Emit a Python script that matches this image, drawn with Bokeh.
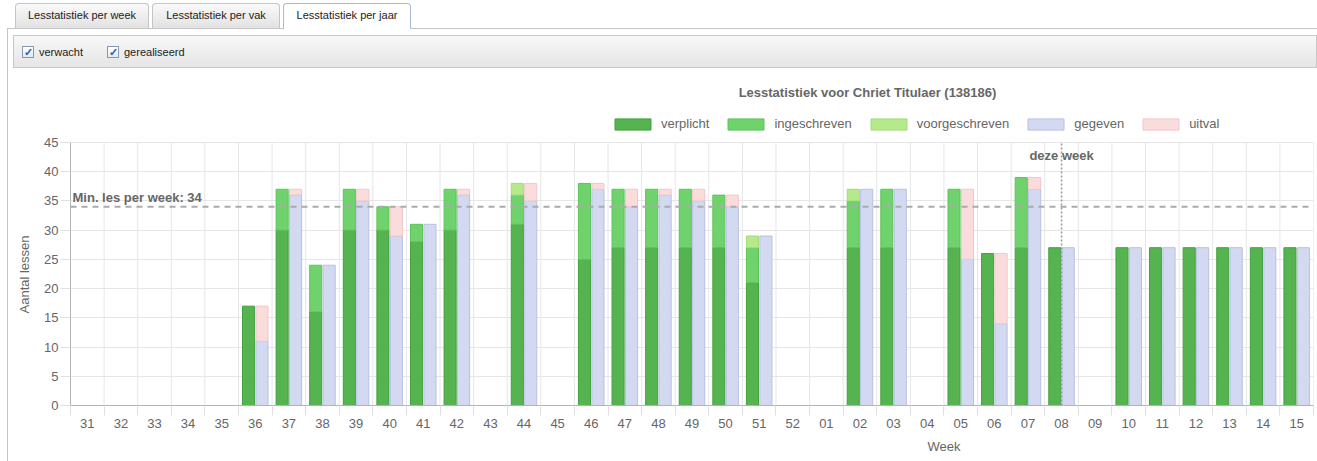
from bokeh.plotting import figure
from bokeh.models import (Range1d, FixedTicker, Span, Label, Legend, LegendItem,
                          Div, ColumnDataSource, Title)
from bokeh.layouts import column
from bokeh.embed import file_html
from bokeh.resources import INLINE
from bokeh.transform import dodge

# ---------------- data ----------------
weeks = ["31", "32", "33", "34", "35", "36", "37", "38", "39", "40", "41", "42", "43",
         "44", "45", "46", "47", "48", "49", "50", "51", "52", "01", "02", "03", "04",
         "05", "06", "07", "08", "09", "10", "11", "12", "13", "14", "15"]
verplicht = [0, 0, 0, 0, 0, 17, 30, 16, 30, 30, 28, 30, 0, 31, 0, 25, 27, 27, 27, 27, 21,
             0, 0, 27, 27, 0, 27, 26, 27, 27, 0, 27, 27, 27, 27, 27, 27]
ingeschreven = [0, 0, 0, 0, 0, 0, 7, 8, 7, 4, 3, 7, 0, 5, 0, 13, 10, 10, 10, 9, 6,
                0, 0, 8, 10, 0, 10, 0, 12, 0, 0, 0, 0, 0, 0, 0, 0]
voorgeschreven = [0, 0, 0, 0, 0, 0, 0, 0, 0, 0, 0, 0, 0, 2, 0, 0, 0, 0, 0, 0, 2,
                  0, 0, 2, 0, 0, 0, 0, 0, 0, 0, 0, 0, 0, 0, 0, 0]
gegeven = [0, 0, 0, 0, 0, 11, 36, 24, 35, 29, 31, 36, 0, 35, 0, 37, 34, 36, 35, 34, 29,
           0, 0, 37, 37, 0, 25, 14, 37, 27, 0, 27, 27, 27, 27, 27, 27]
uitval = [0, 0, 0, 0, 0, 6, 1, 0, 2, 5, 0, 1, 0, 3, 0, 1, 3, 1, 2, 2, 0,
          0, 0, 0, 0, 0, 12, 12, 2, 0, 0, 0, 0, 0, 0, 0, 0]
y_ticks = [0, 5, 10, 15, 20, 25, 30, 35, 40, 45]
min_per_week = 34
this_week = "08"

FONT = "Liberation Sans"
FS = "13px"
GREY = "#666666"
n = len(weeks)
centers = [i + 0.5 for i in range(n)]
bounds = [float(i) for i in range(n + 1)]
y_max = y_ticks[-1]

# layout geometry (pixels)
FIG_W, FIG_H = 1317, 386
B_LEFT, B_RIGHT, B_TOP, B_BOTTOM = 70, 4, 0, 56
AXIS_PX = 263                      # pixel height of 0..45
frame_h = FIG_H - B_TOP - B_BOTTOM
y_top = y_max * frame_h / AXIS_PX  # extra room above 45 for title and legend


def layer(vals, base):
    xs, bs, ts = [], [], []
    for x, v, b in zip(centers, vals, base):
        if v > 0:
            xs.append(x)
            bs.append(b)
            ts.append(b + v)
    return ColumnDataSource(dict(x=xs, bottom=bs, top=ts))


p = figure(width=FIG_W, height=FIG_H, x_range=Range1d(0, n), y_range=Range1d(0, y_top),
           output_backend="svg", toolbar_location=None, title=None,
           min_border_left=B_LEFT, min_border_right=B_RIGHT, min_border_top=B_TOP,
           min_border_bottom=B_BOTTOM,
           outline_line_color=None, background_fill_color="white",
           border_fill_color="white", margin=0)

# grid: horizontal lines via Grid, vertical lines (category boundaries) up to 45
p.xgrid.grid_line_color = None
p.ygrid.ticker = FixedTicker(ticks=y_ticks)
p.ygrid.grid_line_color = "#e6e6e6"
gsrc = ColumnDataSource(dict(x=bounds[1:], y0=[0] * n, y1=[y_max] * n))
p.segment(x0="x", y0="y0", x1="x", y1="y1", source=gsrc, line_color="#e6e6e6",
          line_width=1, level="underlay")

# x axis
xa = p.xaxis[0]
xa.ticker = FixedTicker(ticks=centers, minor_ticks=bounds)
xa.major_label_overrides = {c: w for c, w in zip(centers, weeks)}
xa.major_tick_line_color = None
xa.major_tick_out = 10
xa.major_tick_in = 0
xa.minor_tick_out = 10
xa.minor_tick_in = 0
xa.minor_tick_line_color = "#e0e0e0"
xa.axis_line_color = "#b3b3b3"
xa.major_label_text_font = FONT
xa.major_label_text_font_size = FS
xa.major_label_text_color = GREY
xa.major_label_standoff = 3

# y axis
ya = p.yaxis[0]
ya.ticker = FixedTicker(ticks=y_ticks)
ya.bounds = (0, y_max)
ya.minor_tick_line_color = None
ya.major_tick_out = 10
ya.major_tick_in = 0
ya.major_tick_line_color = "#e0e0e0"
ya.axis_line_color = "#b3b3b3"
ya.major_label_text_font = FONT
ya.major_label_text_font_size = FS
ya.major_label_text_color = GREY
ya.major_label_standoff = 2

# axis titles (placed as side titles so they can be positioned like the reference)
p.add_layout(Title(text="Aantal lessen", align="left", offset=92, vertical_align="bottom",
                   standoff=19, text_font=FONT, text_font_size=FS, text_font_style="normal",
                   text_color=GREY), "left")
p.add_layout(Title(text="Week", align="left", offset=857, vertical_align="bottom",
                   standoff=13, text_font=FONT, text_font_size=FS,
                   text_font_style="normal", text_color=GREY), "below")

# bars
zeros = [0] * n
base_ing = [a for a in verplicht]
base_voor = [a + b for a, b in zip(verplicht, ingeschreven)]
base_uit = [a for a in gegeven]

W = 0.36
specs = [
    ("verplicht", verplicht, zeros, -0.2, "#55b450", "#43a043"),
    ("ingeschreven", ingeschreven, base_ing, -0.2, "#70d26c", "#5cc45a"),
    ("voorgeschreven", voorgeschreven, base_voor, -0.2, "#b6e88c", "#a3dc7a"),
    ("gegeven", gegeven, zeros, 0.2, "#d3d9f1", "#b7c1e3"),
    ("uitval", uitval, base_uit, 0.2, "#fbdcdd", "#f2c6c8"),
]
items = []
for name, vals, base, off, fc, lc in specs:
    src = layer(vals, base)
    r = p.vbar(x=dodge("x", off), width=W, bottom="bottom", top="top", source=src,
               fill_color=fc, line_color=lc, line_width=1)
    items.append(LegendItem(label=name, renderers=[r]))

# reference lines
p.add_layout(Span(location=min_per_week, dimension="width", line_color="#aaaaaa",
                  line_dash="6 5", line_width=2))
tw = centers[weeks.index(this_week)]
tsrc = ColumnDataSource(dict(x=[tw], y0=[0], y1=[y_max]))
p.segment(x0="x", y0="y0", x1="x", y1="y1", source=tsrc, line_color="#999999",
          line_dash="2 2", line_width=1.5)

p.add_layout(Label(x=0, y=min_per_week, x_offset=2, y_offset=9, text="Min. les per week: 34",
                   text_font=FONT, text_font_size=FS, text_font_style="bold",
                   text_color=GREY, text_baseline="alphabetic"))
p.add_layout(Label(x=tw, y=y_max, y_offset=-13, text="deze week", text_align="center",
                   text_baseline="middle", text_font=FONT, text_font_size=FS,
                   text_font_style="bold", text_color=GREY))

# chart title
p.add_layout(Label(x=797, y=313, x_units="screen", y_units="screen",
                   text="Lesstatistiek voor Chriet Titulaer (138186)", text_align="center",
                   text_baseline="middle", text_font=FONT, text_font_size=FS,
                   text_font_style="bold", text_color=GREY))

legend = Legend(items=items, orientation="horizontal", location=(540, 274),
                glyph_width=45, glyph_height=14, label_standoff=6, spacing=14,
                padding=0, margin=0, border_line_color=None, background_fill_alpha=0,
                label_text_font=FONT, label_text_font_size=FS,
                label_text_color=GREY, label_height=14)
p.add_layout(legend)

# ---------------- page chrome (tabs + checkbox bar) ----------------
tab_css = ("position:absolute;top:3px;height:25px;box-sizing:border-box;"
           "border:1px solid #c5c5c5;border-bottom:none;border-radius:4px 4px 0 0;"
           "background:linear-gradient(#fafafa,#e2e2e2);line-height:23px;text-align:center;"
           "color:#222;")
act_css = ("position:absolute;top:3px;height:26px;box-sizing:border-box;"
           "border:1px solid #a9bcd2;border-bottom:none;border-radius:4px 4px 0 0;"
           "background:#ffffff;line-height:23px;text-align:center;color:#222;z-index:2;")
cb_css = ("position:absolute;top:46px;width:12px;height:12px;box-sizing:border-box;"
          "border:1px solid #8797b0;background:linear-gradient(#ffffff,#e3e9f3);"
          "color:#2f5fb0;font-size:11px;font-weight:bold;line-height:10px;text-align:center;")
html = f"""
<div style="position:relative;width:1317px;height:75px;font-family:'{FONT}',Arial,sans-serif;font-size:11px;color:#222;">
  <div style="position:absolute;left:7px;top:28px;width:1310px;height:0;border-top:1px solid #c5c5c5;"></div>
  <div style="position:absolute;left:7px;top:28px;width:0;height:433px;border-left:1px solid #c5c5c5;z-index:5;"></div>
  <div style="{tab_css}left:15px;width:134px;">Lesstatistiek per week</div>
  <div style="{tab_css}left:152px;width:128px;">Lesstatistiek per vak</div>
  <div style="{act_css}left:283px;width:128px;">Lesstatistiek per jaar</div>
  <div style="position:absolute;left:13px;top:35px;width:1304px;height:33px;box-sizing:border-box;border:1px solid #c8c8c8;background:linear-gradient(#f8f8f8,#e5e5e5);"></div>
  <div style="{cb_css}left:22px;">&#10003;</div>
  <div style="position:absolute;left:39px;top:45px;line-height:14px;">verwacht</div>
  <div style="{cb_css}left:107px;">&#10003;</div>
  <div style="position:absolute;left:124px;top:45px;line-height:14px;">gerealiseerd</div>
</div>
"""
div = Div(text=html, width=FIG_W, height=75, margin=0)

layout = column(div, p, spacing=0, margin=0)

open("out.html", "w").write(file_html(layout, INLINE))
